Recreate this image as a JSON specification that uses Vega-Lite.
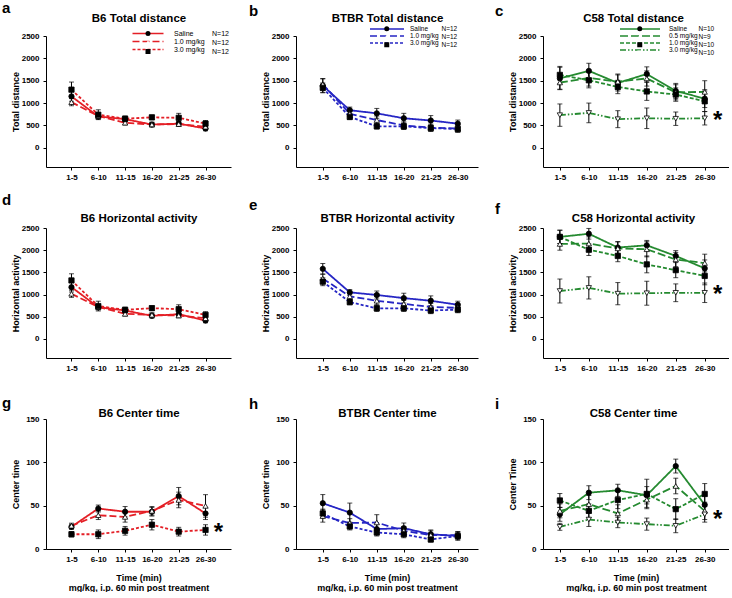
{
"$schema":"https://vega.github.io/schema/vega-lite/v6.json",
"background":"white",
"padding":{"left":2,"top":1,"right":0,"bottom":0},
"bounds":"flush",
"columns":3,
"spacing":{"row":61,"column":65},
"resolve":{"scale":{"strokeDash":"independent","shape":"independent","fill":"independent"},"legend":{"strokeDash":"independent","shape":"independent","fill":"independent"}},
"config":{
 "font":"Liberation Sans",
 "view":{"stroke":null},
 "axis":{"grid":false,"domainColor":"black","domainWidth":1,"tickColor":"black","tickWidth":1,"tickSize":3,"labelFontSize":8,"labelFontWeight":"bold","labelColor":"black","labelFont":"Liberation Sans","labelOverlap":false,"titleFontSize":9,"titleFontWeight":"bold","titleColor":"black","titleFont":"Liberation Sans"},
 "axisX":{"labelAngle":0,"labelPadding":3,"titlePadding":10,"titleLineHeight":10},
 "axisY":{"labelPadding":4,"titleX":-26,"format":"d"},
 "title":{"font":"Liberation Sans","fontWeight":"bold","fontSize":15,"color":"black","frame":"group","anchor":"start","baseline":"alphabetic"}
},
"datasets":{
"a":[
{"s":"Saline","t":"1-5","m":1150,"e":110},{"s":"Saline","t":"6-10","m":700,"e":60},{"s":"Saline","t":"11-15","m":640,"e":60},{"s":"Saline","t":"16-20","m":520,"e":50},{"s":"Saline","t":"21-25","m":540,"e":50},{"s":"Saline","t":"26-30","m":430,"e":50},
{"s":"1.0 mg/kg","t":"1-5","m":1020,"e":80},{"s":"1.0 mg/kg","t":"6-10","m":710,"e":50},{"s":"1.0 mg/kg","t":"11-15","m":560,"e":50},{"s":"1.0 mg/kg","t":"16-20","m":520,"e":50},{"s":"1.0 mg/kg","t":"21-25","m":530,"e":50},{"s":"1.0 mg/kg","t":"26-30","m":470,"e":50},
{"s":"3.0 mg/kg","t":"1-5","m":1300,"e":170},{"s":"3.0 mg/kg","t":"6-10","m":740,"e":110},{"s":"3.0 mg/kg","t":"11-15","m":650,"e":60},{"s":"3.0 mg/kg","t":"16-20","m":680,"e":50},{"s":"3.0 mg/kg","t":"21-25","m":670,"e":100},{"s":"3.0 mg/kg","t":"26-30","m":540,"e":70}],
"b":[
{"s":"Saline","t":"1-5","m":1390,"e":150},{"s":"Saline","t":"6-10","m":840,"e":70},{"s":"Saline","t":"11-15","m":770,"e":110},{"s":"Saline","t":"16-20","m":660,"e":110},{"s":"Saline","t":"21-25","m":610,"e":110},{"s":"Saline","t":"26-30","m":540,"e":80},
{"s":"1.0 mg/kg","t":"1-5","m":1420,"e":130},{"s":"1.0 mg/kg","t":"6-10","m":760,"e":70},{"s":"1.0 mg/kg","t":"11-15","m":620,"e":90},{"s":"1.0 mg/kg","t":"16-20","m":500,"e":80},{"s":"1.0 mg/kg","t":"21-25","m":450,"e":80},{"s":"1.0 mg/kg","t":"26-30","m":430,"e":80},
{"s":"3.0 mg/kg","t":"1-5","m":1340,"e":110},{"s":"3.0 mg/kg","t":"6-10","m":690,"e":60},{"s":"3.0 mg/kg","t":"11-15","m":480,"e":60},{"s":"3.0 mg/kg","t":"16-20","m":480,"e":70},{"s":"3.0 mg/kg","t":"21-25","m":440,"e":70},{"s":"3.0 mg/kg","t":"26-30","m":420,"e":70}],
"c":[
{"s":"Saline","t":"1-5","m":1550,"e":250},{"s":"Saline","t":"6-10","m":1720,"e":170},{"s":"Saline","t":"11-15","m":1450,"e":180},{"s":"Saline","t":"16-20","m":1650,"e":160},{"s":"Saline","t":"21-25","m":1270,"e":170},{"s":"Saline","t":"26-30","m":1100,"e":200},
{"s":"0.5 mg/kg","t":"1-5","m":1460,"e":150},{"s":"0.5 mg/kg","t":"6-10","m":1560,"e":180},{"s":"0.5 mg/kg","t":"11-15","m":1480,"e":170},{"s":"0.5 mg/kg","t":"16-20","m":1550,"e":170},{"s":"0.5 mg/kg","t":"21-25","m":1240,"e":170},{"s":"0.5 mg/kg","t":"26-30","m":1250,"e":250},
{"s":"1.0 mg/kg","t":"1-5","m":1630,"e":190},{"s":"1.0 mg/kg","t":"6-10","m":1510,"e":170},{"s":"1.0 mg/kg","t":"11-15","m":1360,"e":150},{"s":"1.0 mg/kg","t":"16-20","m":1260,"e":200},{"s":"1.0 mg/kg","t":"21-25","m":1190,"e":150},{"s":"1.0 mg/kg","t":"26-30","m":1040,"e":230},
{"s":"3.0 mg/kg","t":"1-5","m":730,"e":250},{"s":"3.0 mg/kg","t":"6-10","m":780,"e":220},{"s":"3.0 mg/kg","t":"11-15","m":640,"e":190},{"s":"3.0 mg/kg","t":"16-20","m":660,"e":230},{"s":"3.0 mg/kg","t":"21-25","m":650,"e":150},{"s":"3.0 mg/kg","t":"26-30","m":660,"e":150}],
"d":[
{"s":"Saline","t":"1-5","m":1167,"e":110},{"s":"Saline","t":"6-10","m":715,"e":60},{"s":"Saline","t":"11-15","m":640,"e":60},{"s":"Saline","t":"16-20","m":520,"e":50},{"s":"Saline","t":"21-25","m":557,"e":50},{"s":"Saline","t":"26-30","m":414,"e":50},
{"s":"1.0 mg/kg","t":"1-5","m":1017,"e":80},{"s":"1.0 mg/kg","t":"6-10","m":720,"e":50},{"s":"1.0 mg/kg","t":"11-15","m":565,"e":50},{"s":"1.0 mg/kg","t":"16-20","m":542,"e":50},{"s":"1.0 mg/kg","t":"21-25","m":527,"e":50},{"s":"1.0 mg/kg","t":"26-30","m":467,"e":50},
{"s":"3.0 mg/kg","t":"1-5","m":1318,"e":150},{"s":"3.0 mg/kg","t":"6-10","m":740,"e":110},{"s":"3.0 mg/kg","t":"11-15","m":655,"e":60},{"s":"3.0 mg/kg","t":"16-20","m":693,"e":50},{"s":"3.0 mg/kg","t":"21-25","m":670,"e":100},{"s":"3.0 mg/kg","t":"26-30","m":542,"e":70}],
"e":[
{"s":"Saline","t":"1-5","m":1580,"e":120},{"s":"Saline","t":"6-10","m":1050,"e":60},{"s":"Saline","t":"11-15","m":990,"e":90},{"s":"Saline","t":"16-20","m":920,"e":110},{"s":"Saline","t":"21-25","m":860,"e":110},{"s":"Saline","t":"26-30","m":770,"e":80},
{"s":"1.0 mg/kg","t":"1-5","m":1360,"e":100},{"s":"1.0 mg/kg","t":"6-10","m":960,"e":70},{"s":"1.0 mg/kg","t":"11-15","m":860,"e":90},{"s":"1.0 mg/kg","t":"16-20","m":790,"e":80},{"s":"1.0 mg/kg","t":"21-25","m":720,"e":80},{"s":"1.0 mg/kg","t":"26-30","m":700,"e":80},
{"s":"3.0 mg/kg","t":"1-5","m":1290,"e":90},{"s":"3.0 mg/kg","t":"6-10","m":830,"e":60},{"s":"3.0 mg/kg","t":"11-15","m":690,"e":70},{"s":"3.0 mg/kg","t":"16-20","m":690,"e":70},{"s":"3.0 mg/kg","t":"21-25","m":640,"e":70},{"s":"3.0 mg/kg","t":"26-30","m":660,"e":70}],
"f":[
{"s":"Saline","t":"1-5","m":2300,"e":150},{"s":"Saline","t":"6-10","m":2370,"e":120},{"s":"Saline","t":"11-15","m":2060,"e":130},{"s":"Saline","t":"16-20","m":2110,"e":110},{"s":"Saline","t":"21-25","m":1870,"e":120},{"s":"Saline","t":"26-30","m":1590,"e":190},
{"s":"0.5 mg/kg","t":"1-5","m":2140,"e":140},{"s":"0.5 mg/kg","t":"6-10","m":2150,"e":150},{"s":"0.5 mg/kg","t":"11-15","m":2040,"e":150},{"s":"0.5 mg/kg","t":"16-20","m":2020,"e":170},{"s":"0.5 mg/kg","t":"21-25","m":1790,"e":160},{"s":"0.5 mg/kg","t":"26-30","m":1710,"e":200},
{"s":"1.0 mg/kg","t":"1-5","m":2300,"e":150},{"s":"1.0 mg/kg","t":"6-10","m":2010,"e":130},{"s":"1.0 mg/kg","t":"11-15","m":1870,"e":130},{"s":"1.0 mg/kg","t":"16-20","m":1680,"e":190},{"s":"1.0 mg/kg","t":"21-25","m":1550,"e":170},{"s":"1.0 mg/kg","t":"26-30","m":1420,"e":200},
{"s":"3.0 mg/kg","t":"1-5","m":1080,"e":270},{"s":"3.0 mg/kg","t":"6-10","m":1150,"e":250},{"s":"3.0 mg/kg","t":"11-15","m":1020,"e":250},{"s":"3.0 mg/kg","t":"16-20","m":1030,"e":270},{"s":"3.0 mg/kg","t":"21-25","m":1040,"e":200},{"s":"3.0 mg/kg","t":"26-30","m":1040,"e":220}],
"g":[
{"s":"Saline","t":"1-5","m":25.6,"e":3},{"s":"Saline","t":"6-10","m":46.7,"e":4},{"s":"Saline","t":"11-15","m":43,"e":6},{"s":"Saline","t":"16-20","m":43,"e":5},{"s":"Saline","t":"21-25","m":61,"e":10},{"s":"Saline","t":"26-30","m":41,"e":7},
{"s":"1.0 mg/kg","t":"1-5","m":26.8,"e":3},{"s":"1.0 mg/kg","t":"6-10","m":39,"e":5},{"s":"1.0 mg/kg","t":"11-15","m":37,"e":6},{"s":"1.0 mg/kg","t":"16-20","m":44,"e":5},{"s":"1.0 mg/kg","t":"21-25","m":56.6,"e":9},{"s":"1.0 mg/kg","t":"26-30","m":49.7,"e":13},
{"s":"3.0 mg/kg","t":"1-5","m":17,"e":3},{"s":"3.0 mg/kg","t":"6-10","m":17,"e":5},{"s":"3.0 mg/kg","t":"11-15","m":21,"e":5},{"s":"3.0 mg/kg","t":"16-20","m":28,"e":6},{"s":"3.0 mg/kg","t":"21-25","m":20,"e":5},{"s":"3.0 mg/kg","t":"26-30","m":22,"e":6}],
"h":[
{"s":"Saline","t":"1-5","m":52.8,"e":10},{"s":"Saline","t":"6-10","m":42,"e":11},{"s":"Saline","t":"11-15","m":23,"e":6},{"s":"Saline","t":"16-20","m":24,"e":6},{"s":"Saline","t":"21-25","m":17,"e":5},{"s":"Saline","t":"26-30","m":15,"e":5},
{"s":"1.0 mg/kg","t":"1-5","m":38,"e":7},{"s":"1.0 mg/kg","t":"6-10","m":30,"e":5},{"s":"1.0 mg/kg","t":"11-15","m":30.6,"e":9},{"s":"1.0 mg/kg","t":"16-20","m":21,"e":5},{"s":"1.0 mg/kg","t":"21-25","m":16,"e":5},{"s":"1.0 mg/kg","t":"26-30","m":16,"e":4},
{"s":"3.0 mg/kg","t":"1-5","m":41,"e":5},{"s":"3.0 mg/kg","t":"6-10","m":26,"e":4},{"s":"3.0 mg/kg","t":"11-15","m":19,"e":4},{"s":"3.0 mg/kg","t":"16-20","m":17,"e":4},{"s":"3.0 mg/kg","t":"21-25","m":11,"e":3},{"s":"3.0 mg/kg","t":"26-30","m":15,"e":4}],
"i":[
{"s":"Saline","t":"1-5","m":40,"e":8},{"s":"Saline","t":"6-10","m":65,"e":8},{"s":"Saline","t":"11-15","m":67.7,"e":7},{"s":"Saline","t":"16-20","m":62,"e":10},{"s":"Saline","t":"21-25","m":95.7,"e":8},{"s":"Saline","t":"26-30","m":51,"e":10},
{"s":"0.5 mg/kg","t":"1-5","m":44,"e":8},{"s":"0.5 mg/kg","t":"6-10","m":51.7,"e":10},{"s":"0.5 mg/kg","t":"11-15","m":41,"e":10},{"s":"0.5 mg/kg","t":"16-20","m":57,"e":9},{"s":"0.5 mg/kg","t":"21-25","m":72.7,"e":9},{"s":"0.5 mg/kg","t":"26-30","m":44,"e":10},
{"s":"1.0 mg/kg","t":"1-5","m":56,"e":8},{"s":"1.0 mg/kg","t":"6-10","m":44,"e":8},{"s":"1.0 mg/kg","t":"11-15","m":56.6,"e":10},{"s":"1.0 mg/kg","t":"16-20","m":63.5,"e":17},{"s":"1.0 mg/kg","t":"21-25","m":46,"e":12},{"s":"1.0 mg/kg","t":"26-30","m":63.5,"e":12},
{"s":"3.0 mg/kg","t":"1-5","m":25.6,"e":4},{"s":"3.0 mg/kg","t":"6-10","m":34,"e":8},{"s":"3.0 mg/kg","t":"11-15","m":30.6,"e":6},{"s":"3.0 mg/kg","t":"16-20","m":28.7,"e":7},{"s":"3.0 mg/kg","t":"21-25","m":26.8,"e":8},{"s":"3.0 mg/kg","t":"26-30","m":40,"e":9}],
"stars":[{"p":"c","t":"26-30","m":660,"lab":"*"},{"p":"f","t":"26-30","m":1050,"lab":"*"},{"p":"g","t":"26-30","m":22,"lab":"*"},{"p":"i","t":"26-30","m":37,"lab":"*"}]
},
"concat":[
 {"width":185,"height":131,"title":{"text":"a","dx":-44,"offset":-4.2},
  "data":{"name":"a"},"resolve":{"axis":{"x":"independent"}},
  "encoding":{"y":{"field":"m","type":"quantitative","scale":{"domain":[-430,2500],"nice":false,"zero":false},"axis":{"values":[0,500,1000,1500,2000,2500],"title":"Total distance"}}},
  "layer":[
   {"mark":{"type":"line","color":"#e41f26","strokeWidth":1.8},"encoding":{
     "x":{"field":"t","type":"ordinal","scale":{"type":"point","domain":["1-5","6-10","11-15","16-20","21-25","26-30"],"padding":0.95,"align":0.5},"axis":{"orient":"top","domain":false,"ticks":false,"labels":false,"title":"B6 Total distance","titleX":92.5,"titleY":-15,"titleAlign":"center","titleBaseline":"alphabetic","titleFontSize":11.5}},
     "strokeDash":{"field":"s","type":"nominal","sort":["Saline","1.0 mg/kg","3.0 mg/kg"],"scale":{"range":[[1,0],[7,3],[3,2]]},"legend":{"orient":"none","legendX":98.5,"legendY":-6,"title":null,"symbolType":"M-6.2,0H6.2","symbolSize":25,"symbolStrokeWidth":1.5,"symbolStrokeColor":"#e41f26","labelOffset":22.5,"labelFontSize":7,"labelFontWeight":"normal","labelColor":"black","rowPadding":0,"padding":0,"zindex":0}}}},
   {"mark":{"type":"errorbar","color":"black","thickness":1,"ticks":{"size":5}},"encoding":{"x":{"field":"t","type":"ordinal","axis":{"title":null}},"yError":{"field":"e"}}},
   {"mark":{"type":"point","filled":true,"stroke":"black","strokeWidth":0.8,"size":28,"opacity":1},"encoding":{"x":{"field":"t","type":"ordinal","axis":null},
     "shape":{"field":"s","type":"nominal","scale":{"domain":["Saline","1.0 mg/kg","3.0 mg/kg"],"range":["circle","triangle-up","square"]},"legend":{"orient":"none","legendX":98.5,"legendY":-6,"title":null,"symbolSize":25,"symbolStrokeWidth":0.8,"symbolStrokeColor":"black","labelOffset":60.5,"labelFontSize":7,"labelFontWeight":"normal","labelColor":"black","rowPadding":0,"padding":0,"labelExpr":"'N=12'","zindex":1}},
     "fill":{"field":"s","type":"nominal","scale":{"domain":["Saline","1.0 mg/kg","3.0 mg/kg"],"range":["black","white","black"]},"legend":{"orient":"none","legendX":98.5,"legendY":-6,"title":null,"symbolSize":25,"symbolStrokeWidth":0.8,"symbolStrokeColor":"black","labelOffset":60.5,"labelFontSize":7,"labelFontWeight":"normal","labelColor":"black","rowPadding":0,"padding":0,"labelExpr":"'N=12'","zindex":1}}}}
  ]},
 {"width":182,"height":131,"title":{"text":"b","dx":-47,"offset":-7.2},
  "data":{"name":"b"},"resolve":{"axis":{"x":"independent"}},
  "encoding":{"y":{"field":"m","type":"quantitative","scale":{"domain":[-430,2500],"nice":false,"zero":false},"axis":{"values":[0,500,1000,1500,2000,2500],"title":"Total distance"}}},
  "layer":[
   {"mark":{"type":"line","color":"#2626c4","strokeWidth":1.8},"encoding":{
     "x":{"field":"t","type":"ordinal","scale":{"type":"point","domain":["1-5","6-10","11-15","16-20","21-25","26-30"],"padding":0.87,"align":0.57},"axis":{"orient":"top","domain":false,"ticks":false,"labels":false,"title":"BTBR Total distance","titleX":91,"titleY":-15,"titleAlign":"center","titleBaseline":"alphabetic","titleFontSize":11.5}},
     "strokeDash":{"field":"s","type":"nominal","sort":["Saline","1.0 mg/kg","3.0 mg/kg"],"scale":{"range":[[1,0],[7,3],[3,2]]},"legend":{"orient":"none","legendX":87.5,"legendY":-10.5,"title":null,"symbolType":"M-6.8,0H6.8","symbolSize":25,"symbolStrokeWidth":1.5,"symbolStrokeColor":"#2626c4","labelOffset":19.5,"labelFontSize":6.5,"labelFontWeight":"normal","labelColor":"black","rowPadding":-1.5,"padding":0,"zindex":0}}}},
   {"mark":{"type":"errorbar","color":"black","thickness":1,"ticks":{"size":5}},"encoding":{"x":{"field":"t","type":"ordinal","axis":{"title":null}},"yError":{"field":"e"}}},
   {"mark":{"type":"point","filled":true,"stroke":"black","strokeWidth":0.8,"size":28,"opacity":1},"encoding":{"x":{"field":"t","type":"ordinal","axis":null},
     "shape":{"field":"s","type":"nominal","scale":{"domain":["Saline","1.0 mg/kg","3.0 mg/kg"],"range":["circle","triangle-up","square"]},"legend":{"orient":"none","legendX":87.5,"legendY":-10.5,"title":null,"symbolSize":25,"symbolStrokeWidth":0.8,"symbolStrokeColor":"black","labelOffset":51.5,"labelFontSize":6.5,"labelFontWeight":"normal","labelColor":"black","rowPadding":-1.5,"padding":0,"labelExpr":"'N=12'","zindex":1}},
     "fill":{"field":"s","type":"nominal","scale":{"domain":["Saline","1.0 mg/kg","3.0 mg/kg"],"range":["black","white","black"]},"legend":{"orient":"none","legendX":87.5,"legendY":-10.5,"title":null,"symbolSize":25,"symbolStrokeWidth":0.8,"symbolStrokeColor":"black","labelOffset":51.5,"labelFontSize":6.5,"labelFontWeight":"normal","labelColor":"black","rowPadding":-1.5,"padding":0,"labelExpr":"'N=12'","zindex":1}}}}
  ]},
 {"width":186,"height":131,"title":{"text":"c","dx":-48,"offset":-7.2},
  "data":{"name":"c"},"resolve":{"axis":{"x":"independent"}},
  "encoding":{"y":{"field":"m","type":"quantitative","scale":{"domain":[-430,2500],"nice":false,"zero":false},"axis":{"values":[0,500,1000,1500,2000,2500],"title":"Total distance"}}},
  "layer":[
   {"mark":{"type":"line","color":"#258a30","strokeWidth":1.8},"encoding":{
     "x":{"field":"t","type":"ordinal","scale":{"type":"point","domain":["1-5","6-10","11-15","16-20","21-25","26-30"],"padding":0.71,"align":0.41},"axis":{"orient":"top","domain":false,"ticks":false,"labels":false,"title":"C58 Total distance","titleX":90,"titleY":-15,"titleAlign":"center","titleBaseline":"alphabetic","titleFontSize":11.5}},
     "strokeDash":{"field":"s","type":"nominal","sort":["Saline","0.5 mg/kg","1.0 mg/kg","3.0 mg/kg"],"scale":{"range":[[1,0],[8,3],[4,2],[6,2,1.5,2,1.5,2]]},"legend":{"orient":"none","legendX":93.5,"legendY":-10.5,"title":null,"symbolType":"M-8,0H8","symbolSize":25,"symbolStrokeWidth":1.5,"symbolStrokeColor":"#258a30","labelOffset":25.5,"labelFontSize":6.5,"labelFontWeight":"normal","labelColor":"black","rowPadding":-1.5,"padding":0,"zindex":0}}}},
   {"mark":{"type":"errorbar","color":"black","thickness":1,"ticks":{"size":5}},"encoding":{"x":{"field":"t","type":"ordinal","axis":{"title":null}},"yError":{"field":"e"}}},
   {"mark":{"type":"point","filled":true,"stroke":"black","strokeWidth":0.8,"size":28,"opacity":1},"encoding":{"x":{"field":"t","type":"ordinal","axis":null},
     "shape":{"field":"s","type":"nominal","scale":{"domain":["Saline","0.5 mg/kg","1.0 mg/kg","3.0 mg/kg"],"range":["circle","triangle-up","square","triangle-down"]},"legend":{"orient":"none","legendX":93.5,"legendY":-10.5,"title":null,"symbolSize":25,"symbolStrokeWidth":0.8,"symbolStrokeColor":"black","labelOffset":55.5,"labelFontSize":6.5,"labelFontWeight":"normal","labelColor":"black","rowPadding":-1.5,"padding":0,"labelExpr":"datum.label === '0.5 mg/kg' ? 'N=9' : 'N=10'","zindex":1}},
     "fill":{"field":"s","type":"nominal","scale":{"domain":["Saline","0.5 mg/kg","1.0 mg/kg","3.0 mg/kg"],"range":["black","white","black","white"]},"legend":{"orient":"none","legendX":93.5,"legendY":-10.5,"title":null,"symbolSize":25,"symbolStrokeWidth":0.8,"symbolStrokeColor":"black","labelOffset":55.5,"labelFontSize":6.5,"labelFontWeight":"normal","labelColor":"black","rowPadding":-1.5,"padding":0,"labelExpr":"datum.label === '0.5 mg/kg' ? 'N=9' : 'N=10'","zindex":1}}}},
   {"data":{"name":"stars"},"transform":[{"filter":"datum.p === 'c'"}],"mark":{"type":"text","dx":13,"dy":3,"fontSize":24,"fontWeight":"bold","font":"Liberation Sans","color":"black"},"encoding":{"x":{"field":"t","type":"ordinal","axis":null},"text":{"field":"lab"}}}
  ]},
 {"width":185,"height":130,"title":{"text":"d","dx":-44,"offset":3.8},
  "data":{"name":"d"},"resolve":{"axis":{"x":"independent"}},
  "encoding":{"y":{"field":"m","type":"quantitative","scale":{"domain":[-430,2500],"nice":false,"zero":false},"axis":{"values":[0,500,1000,1500,2000,2500],"title":"Horizontal activity"}}},
  "layer":[
   {"mark":{"type":"line","color":"#e41f26","strokeWidth":1.8},"encoding":{
     "x":{"field":"t","type":"ordinal","scale":{"type":"point","domain":["1-5","6-10","11-15","16-20","21-25","26-30"],"padding":0.95,"align":0.5},"axis":{"orient":"top","domain":false,"ticks":false,"labels":false,"title":"B6 Horizontal activity","titleX":92.5,"titleY":-7,"titleAlign":"center","titleBaseline":"alphabetic","titleFontSize":11.5}},
     "strokeDash":{"field":"s","type":"nominal","sort":["Saline","1.0 mg/kg","3.0 mg/kg"],"scale":{"range":[[1,0],[7,3],[3,2]]},"legend":null}}},
   {"mark":{"type":"errorbar","color":"black","thickness":1,"ticks":{"size":5}},"encoding":{"x":{"field":"t","type":"ordinal","axis":{"title":null}},"yError":{"field":"e"}}},
   {"mark":{"type":"point","filled":true,"stroke":"black","strokeWidth":0.8,"size":28,"opacity":1},"encoding":{"x":{"field":"t","type":"ordinal","axis":null},
     "shape":{"field":"s","type":"nominal","scale":{"domain":["Saline","1.0 mg/kg","3.0 mg/kg"],"range":["circle","triangle-up","square"]},"legend":null},
     "fill":{"field":"s","type":"nominal","scale":{"domain":["Saline","1.0 mg/kg","3.0 mg/kg"],"range":["black","white","black"]},"legend":null}}}
  ]},
 {"width":182,"height":130,"title":{"text":"e","dx":-47,"offset":-1.2},
  "data":{"name":"e"},"resolve":{"axis":{"x":"independent"}},
  "encoding":{"y":{"field":"m","type":"quantitative","scale":{"domain":[-430,2500],"nice":false,"zero":false},"axis":{"values":[0,500,1000,1500,2000,2500],"title":"Horizontal activity"}}},
  "layer":[
   {"mark":{"type":"line","color":"#2626c4","strokeWidth":1.8},"encoding":{
     "x":{"field":"t","type":"ordinal","scale":{"type":"point","domain":["1-5","6-10","11-15","16-20","21-25","26-30"],"padding":0.87,"align":0.57},"axis":{"orient":"top","domain":false,"ticks":false,"labels":false,"title":"BTBR Horizontal activity","titleX":91,"titleY":-7,"titleAlign":"center","titleBaseline":"alphabetic","titleFontSize":11.5}},
     "strokeDash":{"field":"s","type":"nominal","sort":["Saline","1.0 mg/kg","3.0 mg/kg"],"scale":{"range":[[1,0],[7,3],[3,2]]},"legend":null}}},
   {"mark":{"type":"errorbar","color":"black","thickness":1,"ticks":{"size":5}},"encoding":{"x":{"field":"t","type":"ordinal","axis":{"title":null}},"yError":{"field":"e"}}},
   {"mark":{"type":"point","filled":true,"stroke":"black","strokeWidth":0.8,"size":28,"opacity":1},"encoding":{"x":{"field":"t","type":"ordinal","axis":null},
     "shape":{"field":"s","type":"nominal","scale":{"domain":["Saline","1.0 mg/kg","3.0 mg/kg"],"range":["circle","triangle-up","square"]},"legend":null},
     "fill":{"field":"s","type":"nominal","scale":{"domain":["Saline","1.0 mg/kg","3.0 mg/kg"],"range":["black","white","black"]},"legend":null}}}
  ]},
 {"width":186,"height":130,"title":{"text":"f","dx":-48,"offset":-5},
  "data":{"name":"f"},"resolve":{"axis":{"x":"independent"}},
  "encoding":{"y":{"field":"m","type":"quantitative","scale":{"domain":[-430,2500],"nice":false,"zero":false},"axis":{"values":[0,500,1000,1500,2000,2500],"title":"Horizontal activity"}}},
  "layer":[
   {"mark":{"type":"line","color":"#258a30","strokeWidth":1.8},"encoding":{
     "x":{"field":"t","type":"ordinal","scale":{"type":"point","domain":["1-5","6-10","11-15","16-20","21-25","26-30"],"padding":0.71,"align":0.41},"axis":{"orient":"top","domain":false,"ticks":false,"labels":false,"title":"C58 Horizontal activity","titleX":90,"titleY":-7,"titleAlign":"center","titleBaseline":"alphabetic","titleFontSize":11.5}},
     "strokeDash":{"field":"s","type":"nominal","sort":["Saline","0.5 mg/kg","1.0 mg/kg","3.0 mg/kg"],"scale":{"range":[[1,0],[8,3],[4,2],[6,2,1.5,2,1.5,2]]},"legend":null}}},
   {"mark":{"type":"errorbar","color":"black","thickness":1,"ticks":{"size":5}},"encoding":{"x":{"field":"t","type":"ordinal","axis":{"title":null}},"yError":{"field":"e"}}},
   {"mark":{"type":"point","filled":true,"stroke":"black","strokeWidth":0.8,"size":28,"opacity":1},"encoding":{"x":{"field":"t","type":"ordinal","axis":null},
     "shape":{"field":"s","type":"nominal","scale":{"domain":["Saline","0.5 mg/kg","1.0 mg/kg","3.0 mg/kg"],"range":["circle","triangle-up","square","triangle-down"]},"legend":null},
     "fill":{"field":"s","type":"nominal","scale":{"domain":["Saline","0.5 mg/kg","1.0 mg/kg","3.0 mg/kg"],"range":["black","white","black","white"]},"legend":null}}},
   {"data":{"name":"stars"},"transform":[{"filter":"datum.p === 'f'"}],"mark":{"type":"text","dx":13,"dy":3,"fontSize":24,"fontWeight":"bold","font":"Liberation Sans","color":"black"},"encoding":{"x":{"field":"t","type":"ordinal","axis":null},"text":{"field":"lab"}}}
  ]},
 {"width":185,"height":130,"title":{"text":"g","dx":-44,"offset":-4},
  "data":{"name":"g"},"resolve":{"axis":{"x":"independent"}},
  "encoding":{"y":{"field":"m","type":"quantitative","scale":{"domain":[0,150],"nice":false,"zero":false},"axis":{"values":[0,50,100,150],"title":"Center time"}}},
  "layer":[
   {"mark":{"type":"line","color":"#e41f26","strokeWidth":1.8},"encoding":{
     "x":{"field":"t","type":"ordinal","scale":{"type":"point","domain":["1-5","6-10","11-15","16-20","21-25","26-30"],"padding":0.95,"align":0.5},"axis":{"orient":"top","domain":false,"ticks":false,"labels":false,"title":"B6 Center time","titleX":92.5,"titleY":-3,"titleAlign":"center","titleBaseline":"alphabetic","titleFontSize":11.5}},
     "strokeDash":{"field":"s","type":"nominal","sort":["Saline","1.0 mg/kg","3.0 mg/kg"],"scale":{"range":[[1,0],[7,3],[3,2]]},"legend":null}}},
   {"mark":{"type":"errorbar","color":"black","thickness":1,"ticks":{"size":5}},"encoding":{"x":{"field":"t","type":"ordinal","axis":{"title":["Time (min)","mg/kg, i.p. 60 min post treatment"]}},"yError":{"field":"e"}}},
   {"mark":{"type":"point","filled":true,"stroke":"black","strokeWidth":0.8,"size":28,"opacity":1},"encoding":{"x":{"field":"t","type":"ordinal","axis":null},
     "shape":{"field":"s","type":"nominal","scale":{"domain":["Saline","1.0 mg/kg","3.0 mg/kg"],"range":["circle","triangle-up","square"]},"legend":null},
     "fill":{"field":"s","type":"nominal","scale":{"domain":["Saline","1.0 mg/kg","3.0 mg/kg"],"range":["black","white","black"]},"legend":null}}},
   {"data":{"name":"stars"},"transform":[{"filter":"datum.p === 'g'"}],"mark":{"type":"text","dx":13,"dy":3,"fontSize":24,"fontWeight":"bold","font":"Liberation Sans","color":"black"},"encoding":{"x":{"field":"t","type":"ordinal","axis":null},"text":{"field":"lab"}}}
  ]},
 {"width":182,"height":130,"title":{"text":"h","dx":-47,"offset":-5},
  "data":{"name":"h"},"resolve":{"axis":{"x":"independent"}},
  "encoding":{"y":{"field":"m","type":"quantitative","scale":{"domain":[0,150],"nice":false,"zero":false},"axis":{"values":[0,50,100,150],"title":"Center time"}}},
  "layer":[
   {"mark":{"type":"line","color":"#2626c4","strokeWidth":1.8},"encoding":{
     "x":{"field":"t","type":"ordinal","scale":{"type":"point","domain":["1-5","6-10","11-15","16-20","21-25","26-30"],"padding":0.87,"align":0.57},"axis":{"orient":"top","domain":false,"ticks":false,"labels":false,"title":"BTBR Center time","titleX":91,"titleY":-3,"titleAlign":"center","titleBaseline":"alphabetic","titleFontSize":11.5}},
     "strokeDash":{"field":"s","type":"nominal","sort":["Saline","1.0 mg/kg","3.0 mg/kg"],"scale":{"range":[[1,0],[7,3],[3,2]]},"legend":null}}},
   {"mark":{"type":"errorbar","color":"black","thickness":1,"ticks":{"size":5}},"encoding":{"x":{"field":"t","type":"ordinal","axis":{"title":["Time (min)","mg/kg, i.p. 60 min post treatment"]}},"yError":{"field":"e"}}},
   {"mark":{"type":"point","filled":true,"stroke":"black","strokeWidth":0.8,"size":28,"opacity":1},"encoding":{"x":{"field":"t","type":"ordinal","axis":null},
     "shape":{"field":"s","type":"nominal","scale":{"domain":["Saline","1.0 mg/kg","3.0 mg/kg"],"range":["circle","triangle-up","square"]},"legend":null},
     "fill":{"field":"s","type":"nominal","scale":{"domain":["Saline","1.0 mg/kg","3.0 mg/kg"],"range":["black","white","black"]},"legend":null}}}
  ]},
 {"width":186,"height":130,"title":{"text":"i","dx":-48,"offset":-5},
  "data":{"name":"i"},"resolve":{"axis":{"x":"independent"}},
  "encoding":{"y":{"field":"m","type":"quantitative","scale":{"domain":[0,150],"nice":false,"zero":false},"axis":{"values":[0,50,100,150],"title":"Center Time"}}},
  "layer":[
   {"mark":{"type":"line","color":"#258a30","strokeWidth":1.8},"encoding":{
     "x":{"field":"t","type":"ordinal","scale":{"type":"point","domain":["1-5","6-10","11-15","16-20","21-25","26-30"],"padding":0.71,"align":0.41},"axis":{"orient":"top","domain":false,"ticks":false,"labels":false,"title":"C58 Center time","titleX":90,"titleY":-3,"titleAlign":"center","titleBaseline":"alphabetic","titleFontSize":11.5}},
     "strokeDash":{"field":"s","type":"nominal","sort":["Saline","0.5 mg/kg","1.0 mg/kg","3.0 mg/kg"],"scale":{"range":[[1,0],[8,3],[4,2],[6,2,1.5,2,1.5,2]]},"legend":null}}},
   {"mark":{"type":"errorbar","color":"black","thickness":1,"ticks":{"size":5}},"encoding":{"x":{"field":"t","type":"ordinal","axis":{"title":["Time (min)","mg/kg, i.p. 60 min post treatment"]}},"yError":{"field":"e"}}},
   {"mark":{"type":"point","filled":true,"stroke":"black","strokeWidth":0.8,"size":28,"opacity":1},"encoding":{"x":{"field":"t","type":"ordinal","axis":null},
     "shape":{"field":"s","type":"nominal","scale":{"domain":["Saline","0.5 mg/kg","1.0 mg/kg","3.0 mg/kg"],"range":["circle","triangle-up","square","triangle-down"]},"legend":null},
     "fill":{"field":"s","type":"nominal","scale":{"domain":["Saline","0.5 mg/kg","1.0 mg/kg","3.0 mg/kg"],"range":["black","white","black","white"]},"legend":null}}},
   {"data":{"name":"stars"},"transform":[{"filter":"datum.p === 'i'"}],"mark":{"type":"text","dx":13,"dy":3,"fontSize":24,"fontWeight":"bold","font":"Liberation Sans","color":"black"},"encoding":{"x":{"field":"t","type":"ordinal","axis":null},"text":{"field":"lab"}}}
  ]}
]
}
